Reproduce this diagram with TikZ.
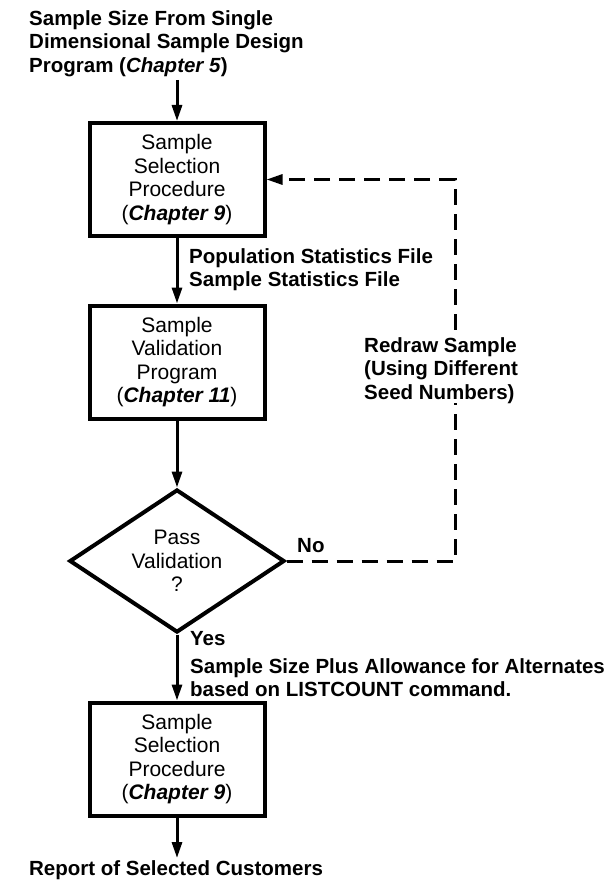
\documentclass[tikz,border=0pt]{standalone}
\usepackage{fontspec}
\setmainfont{Liberation Sans}
\usetikzlibrary{arrows.meta,shapes.geometric}
\begin{document}
\begin{tikzpicture}[x=1pt,y=-1pt,
  every node/.style={font=\fontsize{21}{23.5}\selectfont},
  % an invisible strut at the head of the first line lowers the text block
  dropped/.style={execute at begin node={\rule{0pt}{#1}}},
  procbox/.style={draw,line width=4pt,minimum width=175pt,minimum height=113pt,
    align=center,inner sep=0pt,dropped=22.5pt},
  decision/.style={diamond,draw,line width=4pt,minimum width=215pt,minimum height=143pt,
    align=center,inner sep=0pt,aspect=1.5,dropped=23pt},
  flow/.style={line width=3pt,-{Triangle[length=16pt,width=10pt]}},
  redraw/.style={line width=3pt,dash pattern=on 16pt off 9pt,-{Triangle[length=16pt,width=10pt]}},
  lbl/.style={font=\fontsize{20.5}{23.5}\selectfont\bfseries,align=left,inner sep=0pt},
]
\useasboundingbox (0,0) rectangle (610,880);

% input and output texts
\node[lbl,anchor=north west] (src) at (29,10)
  {Sample Size From Single\\Dimensional Sample Design\\Program (\textit{Chapter 5})};
\coordinate (srcfoot) at (177,80);

% main process chain
\node[procbox] (sel1) at (177,179.5)
  {Sample\\Selection\\Procedure\\(\textbf{\textit{Chapter 9}})};
\node[procbox] (valid) at (177,362)
  {Sample\\Validation\\Program\\(\textbf{\textit{Chapter 11}})};
\node[decision] (pass) at (177,561) {Pass\\Validation\\?};
\node[procbox] (sel2) at (177,759)
  {Sample\\Selection\\Procedure\\(\textbf{\textit{Chapter 9}})};
\coordinate (rptend) at (177,858);
\node[lbl,anchor=base] (report) at (176,875) {Report of Selected Customers};

% connector labels
\node[lbl,anchor=north west] (stats) at (189,248)
  {Population Statistics File\\Sample Statistics File};
\node[lbl,anchor=base west] (no) at (297,552) {No};
\node[lbl,anchor=base west] (yes) at (190,645) {Yes};
\node[lbl,anchor=north west] (alloc) at (190,658)
  {Sample Size Plus Allowance for Alternates\\based on LISTCOUNT command.};

% connectors
\draw[flow] (srcfoot) -- (sel1.north);
\draw[flow] (sel1) -- (valid);
\draw[flow] (valid) -- (pass);
\draw[flow] (pass) -- (sel2);
\draw[flow] (sel2) -- (rptend);

% retry loop
\coordinate (turn) at (455,561);
\draw[redraw] (pass.east) -- (turn) |- (sel1.east);
\node[lbl,anchor=north west,fill=white] (redrawlbl) at (364,337)
  {Redraw Sample\\(Using Different\\Seed Numbers)};
\end{tikzpicture}
\end{document}
